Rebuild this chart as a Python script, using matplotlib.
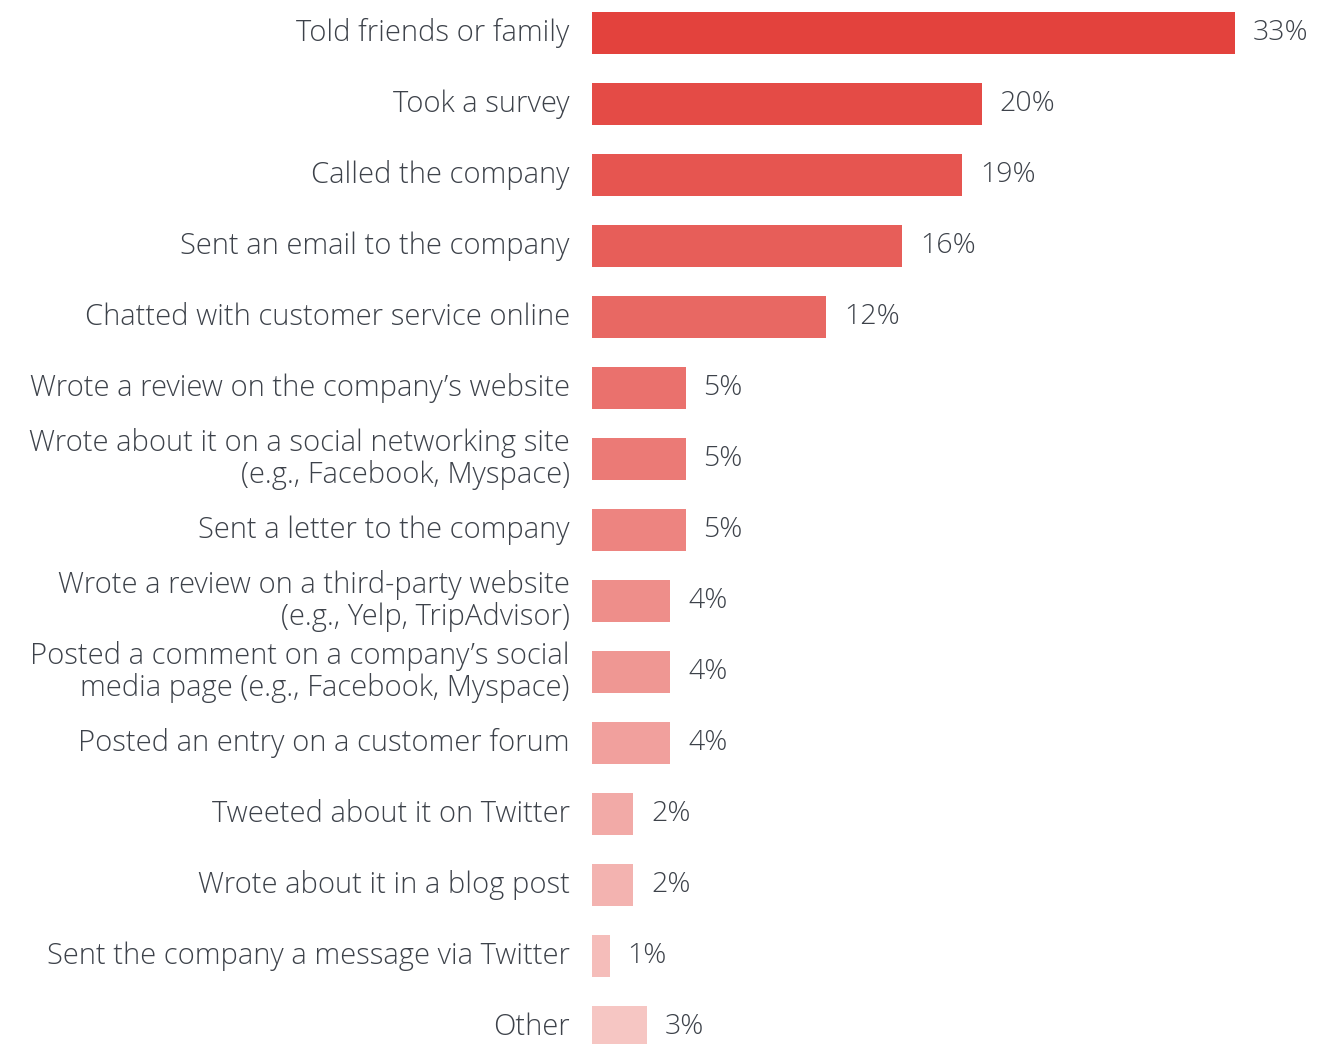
import matplotlib
matplotlib.use('Agg')
import matplotlib.pyplot as plt
import numpy as np
from matplotlib.colors import LinearSegmentedColormap

categories = [
    "Told friends or family",
    "Took a survey",
    "Called the company",
    "Sent an email to the company",
    "Chatted with customer service online",
    "Wrote a review on the company\u2019s website",
    "Wrote about it on a social networking site\n(e.g., Facebook, Myspace)",
    "Sent a letter to the company",
    "Wrote a review on a third-party website\n(e.g., Yelp, TripAdvisor)",
    "Posted a comment on a company\u2019s social\nmedia page (e.g., Facebook, Myspace)",
    "Posted an entry on a customer forum",
    "Tweeted about it on Twitter",
    "Wrote about it in a blog post",
    "Sent the company a message via Twitter",
    "Other",
]
values = [33, 20, 19, 15.9, 12, 4.8, 4.8, 4.8, 4.0, 4.0, 4.0, 2.1, 2.1, 0.9, 2.8]
value_labels = ["33%", "20%", "19%", "16%", "12%", "5%", "5%", "5%", "4%", "4%", "4%",
                "2%", "2%", "1%", "3%"]

plt.rcParams['font.family'] = ['Open Sans', 'DejaVu Sans']
text_color = '#3d424a'

cmap = LinearSegmentedColormap.from_list('reds', ['#e3423d', '#f6c6c3'])
colors = [cmap(t) for t in np.linspace(0, 1, len(values))]

fig = plt.figure(figsize=(13.42, 10.44), dpi=100)
ax = fig.add_axes([592 / 1342, 0, 1 - 592 / 1342, 1])

y = np.arange(len(values))
bars = ax.barh(y, values, height=0.59, color=colors)

for b, lab in zip(bars, value_labels):
    ax.annotate(lab, (b.get_width(), b.get_y() + b.get_height() / 2),
                xytext=(13, 0), textcoords='offset points',
                va='center', ha='left', fontsize=20.5, color=text_color,
                fontweight='light')

ax.set_yticks(y)
ax.set_yticklabels(categories, fontsize=21, color=text_color, linespacing=1.08,
                   fontweight='light', va='center')
ax.tick_params(axis='y', length=0, pad=16)
ax.set_xticks([])
ax.set_xlim(0, 38.5)
ax.set_ylim(14.24, -0.465)
for s in ax.spines.values():
    s.set_visible(False)

fig.savefig('out.png', dpi=100)
